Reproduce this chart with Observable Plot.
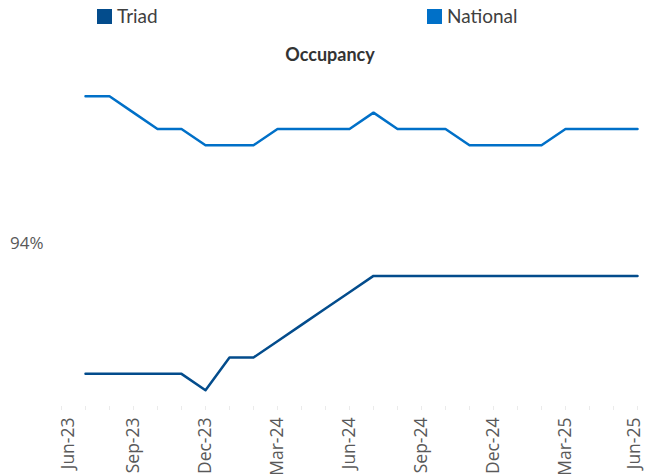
<!DOCTYPE html>
<html>
<head>
<meta charset="utf-8">
<script src="https://cdn.jsdelivr.net/npm/d3@7"></script>
<script src="https://cdn.jsdelivr.net/npm/@observablehq/plot@0.6"></script>
<style>
  body { margin: 0; background: #fff; font-family: Lato, "Open Sans", sans-serif; }
  #wrap { position: relative; width: 646px; height: 475px; }
  #header { position: relative; width: 646px; height: 70px; }
  .sw { position: absolute; width: 15px; height: 15px; top: 9px; }
  .lt { position: absolute; top: 4px; font-size: 19px; line-height: 24px; color: #404040; }
  #title { position: absolute; top: 43px; left: 0; width: 660px; text-align: center; font-weight: bold; font-size: 18px; color: #333; }
  svg { display: block; }
  #chart svg text { font-family: "Open Sans", sans-serif; }
</style>
</head>
<body>
<div id="wrap">
  <div id="header">
    <div class="sw" style="left:97px;background:#034c8c"></div>
    <div class="lt" style="left:117px">Triad</div>
    <div class="sw" style="left:427px;background:#0070c8"></div>
    <div class="lt" style="left:447px">National</div>
    <div id="title">Occupancy</div>
  </div>
  <div id="chart"></div>
</div>
<script>
const months = ["Jun-23","Jul-23","Aug-23","Sep-23","Oct-23","Nov-23","Dec-23","Jan-24","Feb-24","Mar-24","Apr-24","May-24","Jun-24","Jul-24","Aug-24","Sep-24","Oct-24","Nov-24","Dec-24","Jan-25","Feb-25","Mar-25","Apr-25","May-25","Jun-25"];
const triad = [null,93.2,93.2,93.2,93.2,93.2,93.1,93.3,93.3,93.4,93.5,93.6,93.7,93.8,93.8,93.8,93.8,93.8,93.8,93.8,93.8,93.8,93.8,93.8,93.8];
const national = [null,94.9,94.9,94.8,94.7,94.7,94.6,94.6,94.6,94.7,94.7,94.7,94.7,94.8,94.7,94.7,94.7,94.6,94.6,94.6,94.6,94.7,94.7,94.7,94.7];
const labelTicks = months.filter((d, i) => i % 3 === 0);
const yTicks = [94];

const triadRows = months.map((m, i) => ({month: m, value: triad[i]}));
const nationalRows = months.map((m, i) => ({month: m, value: national[i]}));

const firstLabel = labelTicks.slice(0, 1);
const midLabels = labelTicks.slice(1, -1);
const lastLabel = labelTicks.slice(-1);
const labelOpts = {x: d => d, frameAnchor: "bottom", dy: 11, rotate: -90, textAnchor: "end", lineAnchor: "middle", fontSize: 17.5, fill: "#595959"};

const chart = Plot.plot({
  width: 646,
  height: 405,
  marginTop: 9.5,
  marginBottom: 69,
  marginLeft: 58,
  marginRight: 6,
  style: {fontFamily: "'Open Sans', sans-serif", background: "#fff"},
  x: {type: "point", domain: months, padding: 0, label: null, axis: null},
  y: {domain: [93, 95], label: null},
  marks: [
    Plot.axisX({ticks: months, tickSize: 4, stroke: "#ebebeb", text: null, label: null}),
    Plot.text(firstLabel, {...labelOpts, dx: 7}),
    Plot.text(midLabels, labelOpts),
    Plot.text(lastLabel, {...labelOpts, dx: -3}),
    Plot.axisY({ticks: yTicks, tickFormat: d => d + "%", tickSize: 0, tickPadding: 15, fontSize: 17, fill: "#595959", label: null}),
    Plot.line(nationalRows, {x: "month", y: "value", stroke: "#0070c8", strokeWidth: 2.5}),
    Plot.line(triadRows, {x: "month", y: "value", stroke: "#034c8c", strokeWidth: 2.5})
  ]
});
document.getElementById("chart").appendChild(chart);
</script>
</body>
</html>
